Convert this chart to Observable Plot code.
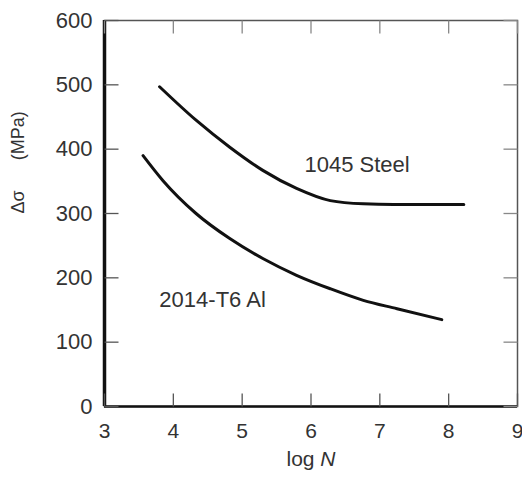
<!DOCTYPE html>
<html><head><meta charset="utf-8">
<script src="https://cdn.jsdelivr.net/npm/d3@7"></script>
<script src="https://cdn.jsdelivr.net/npm/@observablehq/plot@0.6"></script>
<style>body{margin:0;background:#fff}</style>
</head><body><div id="chart"></div>
<script>
// Data
const steelLogN   = [3.80, 4.33, 4.82, 5.30, 5.79, 6.28, 6.76, 7.20, 8.22];
const steelStress = [497, 445, 403, 367, 339, 320, 315, 314, 314];
const alLogN      = [3.56, 3.85, 4.33, 4.82, 5.30, 5.79, 6.28, 6.76, 7.25, 7.90];
const alStress    = [390, 351, 300, 261, 230, 204, 183, 165, 152, 135];
const xTicks = [3, 4, 5, 6, 7, 8, 9];
const yTicks = [0, 100, 200, 300, 400, 500, 600];
const seriesNames = ["1045 Steel", "2014-T6 Al"];
const labelLogN   = [6.67, 4.57];
const labelStress = [375, 165];

const steel = steelLogN.map((x, i) => ({x, y: steelStress[i]}));
const al = alLogN.map((x, i) => ({x, y: alStress[i]}));
const labels = seriesNames.map((t, i) => ({t, x: labelLogN[i], y: labelStress[i]}));

const W = 522, H = 480, ML = 104, MR = 5, MT = 20, MB = 74;
const FW = W - ML - MR, FH = H - MT - MB;
const xDom = [3, 9], yDom = [0, 600];
// inward tick lengths (pixels) converted to data units
const tx = 14 * (xDom[1] - xDom[0]) / FW;
const ty = 13 * (yDom[1] - yDom[0]) / FH;
const xTickRows = xTicks.map(v => ({v}));
const yTickRows = yTicks.map(v => ({v}));

const font = "'Liberation Sans', Arial, sans-serif";
const chart = Plot.plot({
  width: W, height: H,
  marginLeft: ML, marginRight: MR, marginTop: MT, marginBottom: MB,
  style: {fontFamily: font, background: "#fff", color: "#333"},
  x: {domain: xDom},
  y: {domain: yDom},
  marks: [
    Plot.frame({stroke: "#555", strokeWidth: 1.5}),
    Plot.axisX({ticks: xTicks, anchor: "bottom", tickSize: 0, tickPadding: 17, tickFormat: d => String(d), fontSize: 21, label: null, fill: "#333"}),
    Plot.axisY({ticks: yTicks, anchor: "left", tickSize: 0, tickPadding: 12, tickFormat: d => String(d), fontSize: 22, label: null, fill: "#333"}),
    Plot.ruleX([3], {stroke: "#111", strokeWidth: 3.5}),
    Plot.ruleY([0], {stroke: "#111", strokeWidth: 2.5}),
    Plot.line(steel, {x: "x", y: "y", stroke: "#111", strokeWidth: 3, curve: "monotone-x"}),
    Plot.line(al, {x: "x", y: "y", stroke: "#111", strokeWidth: 3, curve: "monotone-x"}),
    Plot.text(labels, {x: "x", y: "y", text: "t", fontSize: 22, fill: "#333"}),
    Plot.text(["log N"], {frameAnchor: "bottom", dy: 59, fontSize: 21, fill: "#333", className: "xlabel"}),
    Plot.text(["Δσ\u00a0\u00a0\u00a0\u00a0\u00a0\u00a0(MPa)"], {frameAnchor: "left", dx: -86, rotate: -90, fontSize: 18, fill: "#333"}),
    // inward ticks on all four sides, drawn last
    Plot.link(xTickRows, {x1: "v", x2: "v", y1: () => yDom[0], y2: () => yDom[0] + ty, stroke: "#555", strokeWidth: 1.3}),
    Plot.link(xTickRows, {x1: "v", x2: "v", y1: () => yDom[1], y2: () => yDom[1] - ty, stroke: "#888", strokeWidth: 1.3}),
    Plot.link(yTickRows, {y1: "v", y2: "v", x1: () => xDom[0], x2: () => xDom[0] + tx, stroke: "#555", strokeWidth: 1.3}),
    Plot.link(yTickRows, {y1: "v", y2: "v", x1: () => xDom[1], x2: () => xDom[1] - tx, stroke: "#888", strokeWidth: 1.3})
  ]
});
document.getElementById("chart").appendChild(chart);
d3.select(chart).selectAll("g.xlabel text").html('log <tspan font-style="italic">N</tspan>');
</script>
</body></html>
